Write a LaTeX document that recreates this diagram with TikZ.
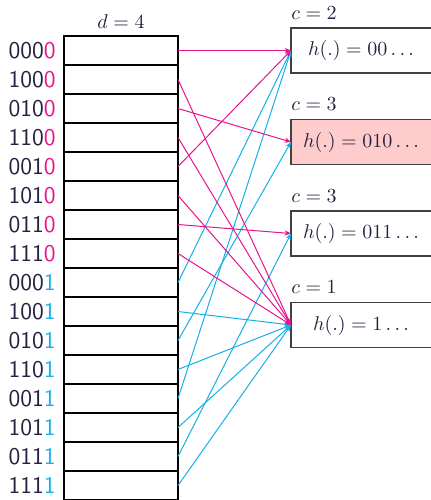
\documentclass[tikz,border=0pt]{standalone}
\usetikzlibrary{arrows.meta}
\definecolor{ink}{RGB}{35,35,65}
\definecolor{mag}{RGB}{232,20,140}
\definecolor{cya}{RGB}{20,176,232}
\definecolor{pinkfill}{RGB}{255,204,204}
\begin{document}
\begin{tikzpicture}[x=0.5pt,y=-0.5pt,
  cell/.style={draw=black,line width=0.7pt,minimum width=57pt,minimum height=14.5pt,inner sep=0pt,outer sep=0pt},
  bucket/.style={draw=black!75,line width=0.55pt,minimum width=80pt,minimum height=22.5pt,inner sep=0pt,outer sep=0pt,anchor=west},
  lbl/.style={anchor=east,inner sep=0pt,text=ink,font=\sffamily\fontsize{12}{14}\selectfont},
  mlbl/.style={inner sep=0pt,text=ink,font=\fontsize{10}{12}\selectfont},
  arr/.style={line width=0.5pt,-{Stealth[length=3.2pt,width=2.6pt]}}]
\useasboundingbox (0,0) rectangle (431,500);
\clip (0,0) rectangle (431,500);
% table
\foreach \i in {0,...,15}
  \node[cell] (r\i) at (121,{50.5+29*\i}) {};
\node[mlbl,anchor=base] (d) at (121,28) {$d=4$};
% row labels
\foreach \p [count=\i from 0] in {000,100,010,110,001,101,011,111}
  \node[lbl] (l\i) at ([xshift=-4pt]r\i.west) {\p\textcolor{mag}{0}};
\foreach \p [count=\i from 8] in {000,100,010,110,001,101,011,111}
  \node[lbl] (l\i) at ([xshift=-4pt]r\i.west) {\p\textcolor{cya}{1}};
% buckets
\node[bucket] (b1) at (291,50.5) {};
\node[bucket,fill=pinkfill] (b2) at (291,142) {};
\node[bucket] (b3) at (291,233.5) {};
\node[bucket] (b4) at (291,325) {};
\node[mlbl] (h1) at (361,50.5) {$h(.)=00\ldots$};
\node[mlbl] (h2) at (361,142) {$h(.)=010\ldots$};
\node[mlbl] (h3) at (361,233.5) {$h(.)=011\ldots$};
\node[mlbl] (h4) at (361,325) {$h(.)=1\ldots$};
\node[mlbl,anchor=base west] (c1) at ([yshift=4.5pt]b1.north west) {$c=2$};
\node[mlbl,anchor=base west] (c2) at ([yshift=4.5pt]b2.north west) {$c=3$};
\node[mlbl,anchor=base west] (c3) at ([yshift=4.5pt]b3.north west) {$c=3$};
\node[mlbl,anchor=base west] (c4) at ([yshift=4.5pt]b4.north west) {$c=1$};
% arrows
\foreach \i/\t in {8/1,9/4,10/2,11/4,12/1,13/4,14/3,15/4}
  \draw[arr,cya] (r\i.east) -- (b\t.west);
\foreach \i/\t in {0/1,1/4,2/2,3/4,4/1,5/4,6/3,7/4}
  \draw[arr,mag] (r\i.east) -- (b\t.west);
\end{tikzpicture}
\end{document}
